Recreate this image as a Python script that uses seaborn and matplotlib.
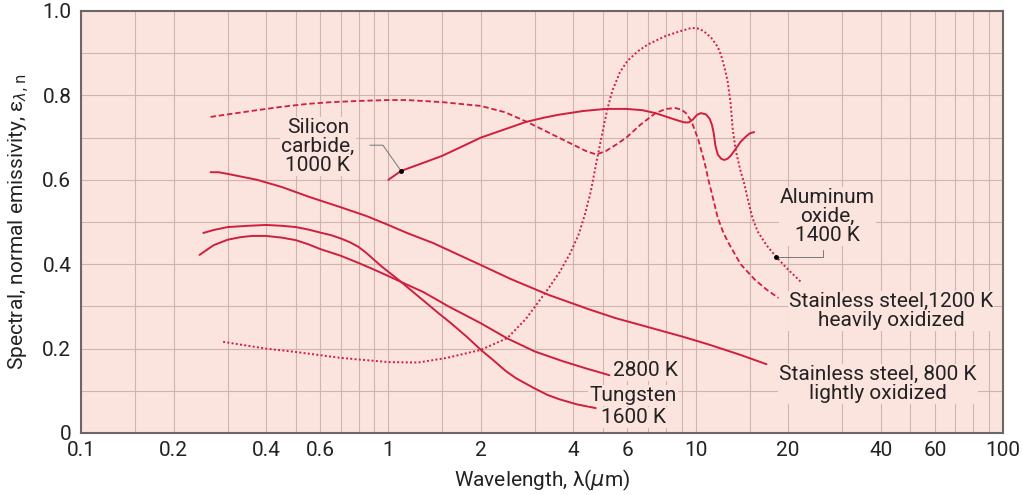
#!/usr/bin/env python3
import matplotlib
matplotlib.use("Agg")
from matplotlib.ticker import FixedLocator, FixedFormatter, NullFormatter
import pandas as pd
import seaborn as sns
import matplotlib.pyplot as plt

# stainless steel 1200 K, heavily oxidized (dashed)
ss1200_wl = [0.264, 0.30, 0.374, 0.45, 0.548, 0.65, 0.81, 1.0, 1.15, 1.5, 2.0, 2.4, 2.83, 3.3, 3.7,
             4.0, 4.4, 4.75, 5.1, 5.5, 5.95, 6.6, 7.4, 8.0, 8.6, 9.0, 9.3, 9.7, 10.2, 10.7, 11.0,
             11.4, 11.8, 12.3, 12.8, 14.0, 15.6, 17.0, 18.6]
ss1200_eps = [0.749, 0.755, 0.765, 0.773, 0.78, 0.784, 0.787, 0.789, 0.789, 0.784, 0.775, 0.76,
              0.737, 0.713, 0.695, 0.683, 0.668, 0.66, 0.668, 0.683, 0.70, 0.73, 0.758, 0.768, 0.77,
              0.766, 0.758, 0.738, 0.695, 0.64, 0.60, 0.555, 0.51, 0.475, 0.45, 0.40, 0.363, 0.34,
              0.32]

# aluminum oxide 1400 K (dotted)
al_wl = [0.29, 0.4, 0.5, 0.7, 1.0, 1.25, 1.55, 2.0, 2.44, 2.8, 3.3, 3.6, 3.9, 4.16, 4.35, 4.55,
         4.75, 4.95, 5.15, 5.35, 5.67, 6.0, 6.5, 7.0, 8.0, 8.8, 9.7, 10.3, 10.7, 11.2, 11.8, 12.1,
         12.4, 12.7, 13.0, 13.2, 13.5, 13.95, 14.4, 14.8, 15.3, 15.9, 17.0, 18.3, 20.0, 22.0]
al_eps = [0.216, 0.20, 0.192, 0.178, 0.168, 0.167, 0.178, 0.197, 0.225, 0.27, 0.34, 0.38, 0.425,
          0.47, 0.515, 0.57, 0.64, 0.705, 0.765, 0.81, 0.855, 0.882, 0.905, 0.921, 0.941, 0.951,
          0.96, 0.958, 0.95, 0.938, 0.915, 0.895, 0.867, 0.835, 0.78, 0.72, 0.67, 0.625, 0.59,
          0.552, 0.51, 0.478, 0.445, 0.417, 0.387, 0.358]

# silicon carbide 1000 K
sic_wl = [1.0, 1.1, 1.32, 1.5, 1.75, 2.0, 2.4, 2.8, 3.2, 3.57, 4.3, 5.1, 5.95, 6.7, 7.4, 8.3, 8.8,
          9.2, 9.5, 9.8, 10.1, 10.4, 10.8, 11.1, 11.3, 11.45, 11.6, 11.8, 12.1, 12.4, 12.7, 13.0,
          13.4, 14.0, 14.6, 15.0, 15.5]
sic_eps = [0.60, 0.621, 0.642, 0.657, 0.68, 0.70, 0.72, 0.737, 0.747, 0.754, 0.763, 0.768, 0.768,
           0.765, 0.758, 0.746, 0.74, 0.736, 0.736, 0.743, 0.754, 0.758, 0.755, 0.745, 0.73, 0.71,
           0.68, 0.66, 0.65, 0.647, 0.65, 0.657, 0.67, 0.69, 0.703, 0.71, 0.713]

# stainless steel 800 K, lightly oxidized
ss800_wl = [0.264, 0.28, 0.30, 0.374, 0.45, 0.55, 0.7, 0.85, 1.0, 1.15, 1.4, 2.0, 2.5, 3.33, 4.5,
            5.5, 7.0, 9.0, 11.0, 14.0, 17.0]
ss800_eps = [0.618, 0.618, 0.614, 0.60, 0.583, 0.56, 0.535, 0.514, 0.493, 0.474, 0.45, 0.398,
             0.365, 0.327, 0.293, 0.272, 0.251, 0.229, 0.21, 0.185, 0.163]

# tungsten 1600 K
w1600_wl = [0.25, 0.27, 0.3, 0.35, 0.4, 0.45, 0.5, 0.55, 0.6, 0.65, 0.7, 0.75, 0.8, 0.85, 0.9,
            0.95, 1.0, 1.05, 1.1, 1.2, 1.32, 1.45, 1.6, 1.8, 2.0, 2.2, 2.4, 2.6, 2.95, 3.3, 3.6,
            4.1, 4.73]
w1600_eps = [0.474, 0.481, 0.488, 0.491, 0.493, 0.491, 0.488, 0.482, 0.475, 0.469, 0.461, 0.452,
             0.441, 0.426, 0.41, 0.395, 0.382, 0.37, 0.358, 0.335, 0.31, 0.285, 0.26, 0.228, 0.197,
             0.172, 0.148, 0.13, 0.108, 0.09, 0.08, 0.068, 0.059]

# tungsten 2800 K
w2800_wl = [0.243, 0.27, 0.3, 0.33, 0.36, 0.4, 0.45, 0.5, 0.55, 0.6, 0.7, 0.8, 0.9, 1.0, 1.1, 1.3,
            1.57, 2.0, 2.44, 3.0, 3.7, 4.4, 5.24]
w2800_eps = [0.422, 0.445, 0.458, 0.464, 0.467, 0.467, 0.463, 0.457, 0.447, 0.436, 0.42, 0.403,
             0.387, 0.372, 0.358, 0.334, 0.30, 0.26, 0.224, 0.193, 0.17, 0.153, 0.137]

x_ticks = [0.1, 0.2, 0.4, 0.6, 1, 2, 4, 6, 10, 20, 40, 60, 100]
x_tick_labels = ["0.1", "0.2", "0.4", "0.6", "1", "2", "4", "6", "10", "20", "40", "60", "100"]
y_ticks = [0, 0.2, 0.4, 0.6, 0.8, 1.0]
y_tick_labels = ["0", "0.2", "0.4", "0.6", "0.8", "1.0"]

RED = "#D01F3C"
BG = "#FBE3DE"
GRID = "#CFB4AF"


def main():
    sns.set_style("white")
    plt.rcParams["font.family"] = ["Roboto", "DejaVu Sans"]
    plt.rcParams["mathtext.fontset"] = "dejavusans"

    fig = plt.figure(figsize=(10.23, 4.95), dpi=100)
    ax = fig.add_axes([81 / 1023, 1 - 433 / 495, 922 / 1023, 422 / 495])
    ax.set_facecolor(BG)

    curves = [
        (ss1200_wl, ss1200_eps, (0, (3, 1.6)), 1.3),
        (al_wl, al_eps, (0, (1, 1.2)), 1.4),
        (sic_wl, sic_eps, "-", 1.4),
        (ss800_wl, ss800_eps, "-", 1.4),
        (w1600_wl, w1600_eps, "-", 1.4),
        (w2800_wl, w2800_eps, "-", 1.4),
    ]
    for wl, eps, ls, lw in curves:
        df = pd.DataFrame({"wl": wl, "eps": eps})
        sns.lineplot(data=df, x="wl", y="eps", sort=False, estimator=None, color=RED,
                     linestyle=ls, linewidth=lw, ax=ax, zorder=3)

    ax.set_xscale("log")
    ax.set_xlim(0.1, 100)
    ax.set_ylim(0, 1.0)

    ax.xaxis.set_major_locator(FixedLocator(x_ticks))
    ax.xaxis.set_major_formatter(FixedFormatter(x_tick_labels))
    minor_x = [m * d for d in (0.1, 1, 10) for m in (1, 1.5, 2, 3, 4, 5, 6, 7, 8, 9)]
    ax.xaxis.set_minor_locator(FixedLocator(minor_x))
    ax.xaxis.set_minor_formatter(NullFormatter())
    ax.yaxis.set_major_locator(FixedLocator(y_ticks))
    ax.yaxis.set_major_formatter(FixedFormatter(y_tick_labels))
    ax.yaxis.set_minor_locator(FixedLocator([i / 10 for i in range(11)]))

    ax.grid(True, which="both", color=GRID, linewidth=0.8)
    ax.set_axisbelow(True)
    ax.tick_params(which="both", length=0, labelsize=15, colors="#222222")
    ax.tick_params(axis="x", pad=6)
    ax.tick_params(axis="y", pad=7)
    for sp in ax.spines.values():
        sp.set_color("#6e6664")
        sp.set_linewidth(1.5)

    ax.set_xlabel(r"Wavelength, λ($\mu$m)", fontsize=15, color="#222222")
    ax.set_ylabel(r"Spectral, normal emissivity, ε$_{\lambda,\mathrm{n}}$", fontsize=15, color="#222222")
    ax.xaxis.set_label_coords(0.5, -0.083)
    ax.yaxis.set_label_coords(-0.053, 0.5)

    box = dict(boxstyle="square,pad=0.05", fc=BG, ec="none")
    kw = dict(fontsize=15, color="#222222", ha="center", va="center", linespacing=1.0, bbox=box, zorder=4)
    ax.text(0.59, 0.679, "Silicon\ncarbide,\n1000 K", **kw)
    ax.text(26.8, 0.513, "Aluminum\noxide,\n1400 K", **kw)
    ax.text(43.2, 0.289, "Stainless steel,1200 K\nheavily oxidized", **kw)
    ax.text(39.2, 0.117, "Stainless steel, 800 K\nlightly oxidized", **kw)
    ax.text(6.86, 0.149, "2800 K", **kw)
    ax.text(6.25, 0.088, "Tungsten", **kw)
    ax.text(6.3, 0.037, "1600 K", **kw)

    # leader lines
    ax.plot([0.87, 0.96, sic_wl[1]], [0.682, 0.682, sic_eps[1]], color="#777777", lw=0.7, zorder=4)
    ax.plot([sic_wl[1]], [sic_eps[1]], "o", color="black", ms=2.5, zorder=5)
    ax.plot([al_wl[-3], 26.0, 26.0], [al_eps[-3], al_eps[-3], 0.434], color="#777777", lw=0.7, zorder=4)
    ax.plot([al_wl[-3]], [al_eps[-3]], "o", color="black", ms=2.5, zorder=5)

    fig.savefig("out.png", dpi=100)


if __name__ == "__main__":
    main()
